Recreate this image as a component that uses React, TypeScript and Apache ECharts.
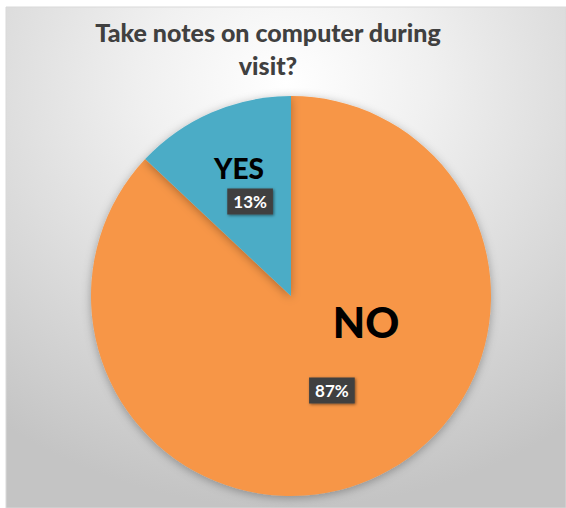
import React, { useEffect, useRef } from "react";
import * as echarts from "echarts";

const categories = ["NO", "YES"];
const values = [87, 13];
const colors = ["#F79646", "#4BACC6"];
const titleLines = ["Take notes on computer during", "visit?"];

export default function App() {
  const ref = useRef<HTMLDivElement>(null);
  useEffect(() => {
    if (!ref.current) return;
    const chart = echarts.init(ref.current, undefined, { renderer: "svg" });
    const font = "Lato, 'Open Sans', sans-serif";
    chart.setOption({
      animation: false,
      graphic: [
        {
          type: "rect",
          silent: true,
          z: -10,
          shape: { x: 6, y: 7, width: 560, height: 501 },
          style: {
            fill: new echarts.graphic.RadialGradient(0.5, 0.15, 0.85, [
              { offset: 0, color: "#ffffff" },
              { offset: 0.3, color: "#f0f0f0" },
              { offset: 1, color: "#c4c4c4" },
            ]),
            stroke: "#d9d9d9",
            lineWidth: 1,
          },
        },
        {
          type: "text",
          x: 268,
          y: 15,
          style: {
            text: titleLines.join("\n"),
            fill: "#404040",
            font: `900 25px ${font}`,
            lineHeight: 33,
            align: "center",
            textAlign: "center",
          },
        },
        {
          type: "text",
          x: 239,
          y: 168,
          z: 100,
          style: {
            text: categories[1],
            fill: "#000000",
            font: `900 28px ${font}`,
            textAlign: "center",
            textVerticalAlign: "middle",
          },
        },
        {
          type: "text",
          x: 366,
          y: 322,
          z: 100,
          style: {
            text: categories[0],
            fill: "#000000",
            font: `900 42px ${font}`,
            textAlign: "center",
            textVerticalAlign: "middle",
          },
        },
      ],
      series: [
        {
          type: "pie",
          center: [291, 296],
          radius: [0, 200],
          startAngle: 90,
          clockwise: true,
          silent: true,
          itemStyle: {
            shadowBlur: 10,
            shadowColor: "rgba(0,0,0,0.3)",
            shadowOffsetY: 2,
          },
          label: {
            show: true,
            position: "inside",
            formatter: (p: any) => `${p.value}%`,
            color: "#ffffff",
            fontFamily: font,
            fontWeight: "bold",
            fontSize: 17,
            backgroundColor: "#404040",
            padding: [5, 6, 4, 6],
            shadowBlur: 3,
            shadowColor: "rgba(0,0,0,0.5)",
            shadowOffsetX: 1,
            shadowOffsetY: 1,
          },
          labelLine: { show: false },
          data: categories.map((c, i) => ({
            name: c,
            value: values[i],
            itemStyle: { color: colors[i] },
          })),
        },
      ],
    });
    return () => chart.dispose();
  }, []);
  return (
    <div
      ref={ref}
      style={{ position: "absolute", left: 0, top: 0, width: 566, height: 508 }}
    />
  );
}
